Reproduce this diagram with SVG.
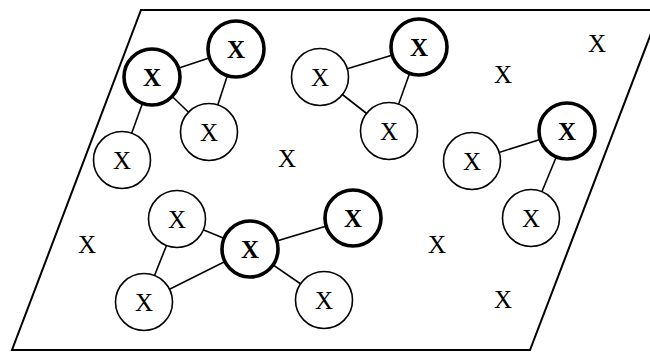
<svg xmlns="http://www.w3.org/2000/svg" width="650" height="352" viewBox="0 0 650 352">
<style>
.n{fill:#fff;stroke:#000;stroke-width:1.6}
.b{fill:#fff;stroke:#000;stroke-width:3.6}
.t{font-family:"Liberation Serif","Times New Roman",serif;font-size:25px;text-anchor:middle;fill:#000}
.tb{font-family:"Liberation Serif","Times New Roman",serif;font-size:25px;font-weight:bold;text-anchor:middle;fill:#000}
.e{stroke:#000;stroke-width:1.6}
</style>
<rect width="650" height="352" fill="#fff"/>
<polygon id="plane" points="141,10 660,10 530,350 12,350" fill="none" stroke="#000" stroke-width="2"/>
<g id="connectors">
<line class="e" x1="152" y1="77" x2="236" y2="49"/>
<line class="e" x1="152" y1="77" x2="209" y2="132"/>
<line class="e" x1="236" y1="49" x2="209" y2="132"/>
<line class="e" x1="152" y1="77" x2="122" y2="160"/>
<line class="e" x1="320" y1="77" x2="419" y2="47"/>
<line class="e" x1="320" y1="77" x2="389" y2="131"/>
<line class="e" x1="419" y1="47" x2="389" y2="131"/>
<line class="e" x1="472" y1="161" x2="567" y2="131"/>
<line class="e" x1="567" y1="131" x2="531" y2="218"/>
<line class="e" x1="177" y1="219" x2="250" y2="249"/>
<line class="e" x1="177" y1="219" x2="144" y2="302"/>
<line class="e" x1="144" y1="302" x2="250" y2="249"/>
<line class="e" x1="250" y1="249" x2="353" y2="218"/>
<line class="e" x1="250" y1="249" x2="324" y2="300"/>
</g>
<g id="nA"><circle class="b" cx="152" cy="77" r="28"/><text class="tb" x="152" y="86">X</text></g>
<g id="nB"><circle class="b" cx="236" cy="49" r="28"/><text class="tb" x="236" y="58">X</text></g>
<g id="nC"><circle class="n" cx="209" cy="132" r="28.5"/><text class="t" x="209" y="141">X</text></g>
<g id="nD"><circle class="n" cx="122" cy="160" r="28.5"/><text class="t" x="122" y="169">X</text></g>
<g id="nE"><circle class="n" cx="320" cy="77" r="28.5"/><text class="t" x="320" y="86">X</text></g>
<g id="nF"><circle class="b" cx="419" cy="47" r="28"/><text class="tb" x="419" y="56">X</text></g>
<g id="nG"><circle class="n" cx="389" cy="131" r="28.5"/><text class="t" x="389" y="140">X</text></g>
<g id="nH"><circle class="b" cx="567" cy="131" r="28"/><text class="tb" x="567" y="140">X</text></g>
<g id="nI"><circle class="n" cx="472" cy="161" r="28.5"/><text class="t" x="472" y="170">X</text></g>
<g id="nJ"><circle class="n" cx="531" cy="218" r="28.5"/><text class="t" x="531" y="227">X</text></g>
<g id="nK"><circle class="n" cx="177" cy="219" r="28.5"/><text class="t" x="177" y="228">X</text></g>
<g id="nL"><circle class="b" cx="250" cy="249" r="28"/><text class="tb" x="250" y="258">X</text></g>
<g id="nM"><circle class="n" cx="144" cy="302" r="28.5"/><text class="t" x="144" y="311">X</text></g>
<g id="nN"><circle class="b" cx="353" cy="218" r="28"/><text class="tb" x="353" y="227">X</text></g>
<g id="nO"><circle class="n" cx="324" cy="300" r="28.5"/><text class="t" x="324" y="309">X</text></g>
<g id="x1"><text class="t" x="287" y="167">X</text></g>
<g id="x2"><text class="t" x="503" y="83">X</text></g>
<g id="x3"><text class="t" x="597" y="52">X</text></g>
<g id="x4"><text class="t" x="87" y="253">X</text></g>
<g id="x5"><text class="t" x="437" y="253">X</text></g>
<g id="x6"><text class="t" x="503" y="308">X</text></g>
</svg>
